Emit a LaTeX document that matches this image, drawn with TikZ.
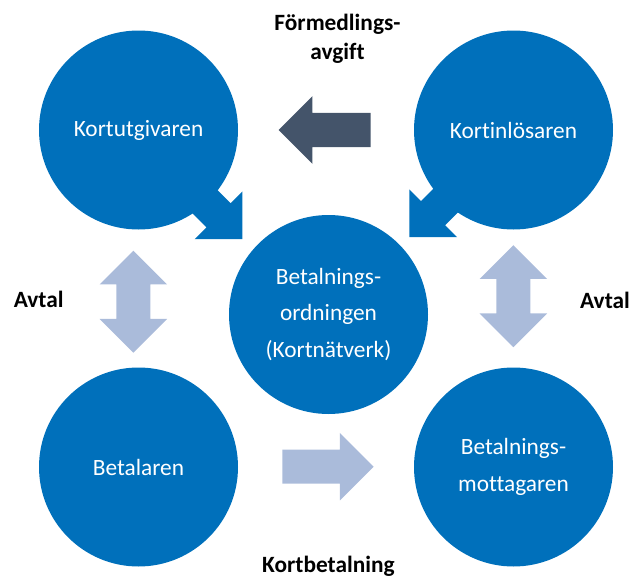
\documentclass[tikz,border=0pt]{standalone}
\usepackage{fontspec}
\setmainfont{Carlito}[Ligatures=NoCommon]
\usepackage{xcolor}
\usetikzlibrary{shapes,arrows,positioning}

\definecolor{cardblue}{HTML}{0070BB}
\definecolor{slate}{HTML}{44546A}
\definecolor{paleblue}{HTML}{AABBDA}

\begin{document}
\begin{tikzpicture}[
    x=0.75pt, y=-0.75pt,
    circ/.style={circle, fill=cardblue, minimum size=149.25pt, inner sep=0pt, align=center, text=white, font=\fontsize{17.5}{27.4}\selectfont},
    bigarrow/.style={single arrow, inner xsep=0pt, inner ysep=12.56pt, minimum width=50.25pt, single arrow head extend=12.56pt, minimum height=#1},
    dblarrow/.style={double arrow, inner xsep=0pt, inner ysep=12.56pt, minimum width=50.25pt, double arrow head extend=12.56pt, minimum height=76.5pt, fill=paleblue, rotate=90},
    lbl/.style={align=center, font=\bfseries\fontsize{17.5}{21.5}\selectfont}
]
\useasboundingbox (0,0) rectangle (633,578);

% Arrows attached to the upper circles
\node[bigarrow=67.5pt, fill=cardblue, rotate=-45, anchor=tip] (utarrow) at (242.7,239.5) {};
\node[bigarrow=67.5pt, fill=cardblue, rotate=-135, anchor=tip] (inarrow) at (409,237.3) {};

% Circles
\node[circ] (utgiv) at (138.5,130) {Kortutgivaren};
\node[circ] (inlos) at (513.5,130) {Kortinlösaren};
\node[circ] (ordn) at (328.5,314.5) {Betalnings-\\ordningen\\(Kortnätverk)};
\node[circ] (betal) at (138.5,467) {Betalaren};
\node[circ] (mott) at (513.5,467) {Betalnings-\\mottagaren};

% Flows between the circles
\node[bigarrow=69pt, fill=slate, rotate=180, anchor=tip] (avgarrow) at (278.3,130) {};
\node[bigarrow=68.5pt, fill=paleblue, anchor=tip] (betarrow) at (374,466.7) {};
\node[dblarrow] (avtalL) at (133.3,301.7) {};
\node[dblarrow] (avtalR) at (513.3,296.2) {};

% Labels
\node[lbl] (avgift) at (337.5,38.5) {Förmedlings-\\avgift};
\node[lbl, anchor=base] (avtxtL) at (38.7,307.7) {Avtal};
\node[lbl, anchor=base] (avtxtR) at (605,308.5) {Avtal};
\node[lbl, anchor=base] (kortbet) at (328.4,572.5) {Kortbetalning};

\end{tikzpicture}
\end{document}
